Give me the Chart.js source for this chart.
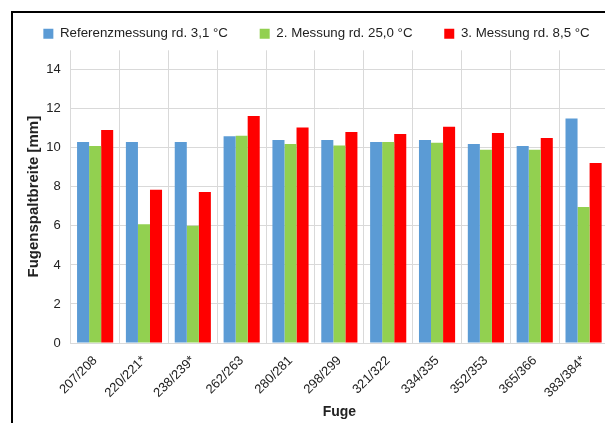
<!DOCTYPE html>
<html>
<head>
<meta charset="utf-8">
<script src="https://cdn.jsdelivr.net/npm/chart.js@4"></script>
<style>
  html, body { margin: 0; padding: 0; background: #fff; overflow: hidden; }
  #frame {
    position: absolute; left: 11px; top: 11px;
    width: 640px; height: 440px;
    border: 2px solid #000;
  }
  #box { position: absolute; left: 0; top: 0; width: 595px; height: 410px; }
</style>
</head>
<body>
<div id="frame">
  <div id="box"><canvas id="chart"></canvas></div>
</div>
<script>
// Fugen (joints) on the x axis
const fugen = ['207/208', '220/221*', '238/239*', '262/263', '280/281', '298/299',
  '321/322', '334/335', '352/353', '365/366', '383/384*'];

const seriesNames = ['Referenzmessung rd. 3,1 °C', '2. Messung rd. 25,0 °C', '3. Messung rd. 8,5 °C'];

// gap widths in mm
const referenz = [10.3, 10.3, 10.3, 10.6, 10.4, 10.4, 10.3, 10.4, 10.2, 10.1, 11.5];
const messung2 = [10.1, 6.08, 6.01, 10.62, 10.2, 10.12, 10.3, 10.26, 9.9, 9.9, 6.97];
const messung3 = [10.92, 7.85, 7.74, 11.63, 11.05, 10.81, 10.71, 11.08, 10.76, 10.5, 9.23];

const yTicks = [0, 2, 4, 6, 8, 10, 12, 14];

const colors = ['#5B9BD5', '#92D050', '#FF0000'];
const gridColor = '#d9d9d9';
const fontFamily = '"Liberation Sans", Arial, sans-serif';

Chart.defaults.font.family = fontFamily;
Chart.defaults.color = '#222';

// legend spacing: a few trailing spaces so the row does not wrap
const legendGap = '    ';

const ctx = document.getElementById('chart').getContext('2d');
new Chart(ctx, {
  type: 'bar',
  data: {
    labels: fugen,
    datasets: [referenz, messung2, messung3].map((vals, i) => ({
      label: i < 2 ? seriesNames[i] + legendGap : seriesNames[i],
      data: vals,
      backgroundColor: colors[i],
      borderWidth: 0,
      categoryPercentage: 0.74,
      barPercentage: 1.0,
    })),
  },
  options: {
    responsive: true,
    maintainAspectRatio: false,
    animation: false,
    layout: { padding: { top: -3, left: 12, right: 0, bottom: 0 } },
    plugins: {
      tooltip: { enabled: false },
      legend: {
        position: 'top',
        labels: {
          boxWidth: 10,
          boxHeight: 10,
          padding: 17,
          color: '#222',
          font: { size: 13.3 },
        },
      },
    },
    scales: {
      x: {
        grid: { color: gridColor, offset: true, drawTicks: false },
        border: { color: gridColor },
        ticks: {
          autoSkip: false,
          minRotation: 45,
          maxRotation: 45,
          padding: 10,
          color: '#222',
          font: { size: 13 },
        },
        title: {
          display: true,
          text: 'Fuge',
          color: '#222',
          font: { size: 14, weight: 'bold', lineHeight: 1 },
          padding: { top: 0, bottom: 4 },
        },
        afterFit: (scale) => { scale.height = 80; },
      },
      y: {
        min: 0,
        max: 15,
        grid: { color: gridColor, drawTicks: false },
        border: { display: false },
        afterBuildTicks: (scale) => { scale.ticks = yTicks.map(v => ({ value: v })); },
        ticks: {
          padding: 10,
          color: '#222',
          font: { size: 13 },
        },
        title: {
          display: true,
          text: 'Fugenspaltbreite [mm]',
          color: '#222',
          font: { size: 15, weight: 'bold', lineHeight: 1 },
          padding: { top: 1, bottom: 0 },
        },
        afterFit: (scale) => { scale.width = 45.7; },
      },
    },
  },
});
</script>
</body>
</html>
